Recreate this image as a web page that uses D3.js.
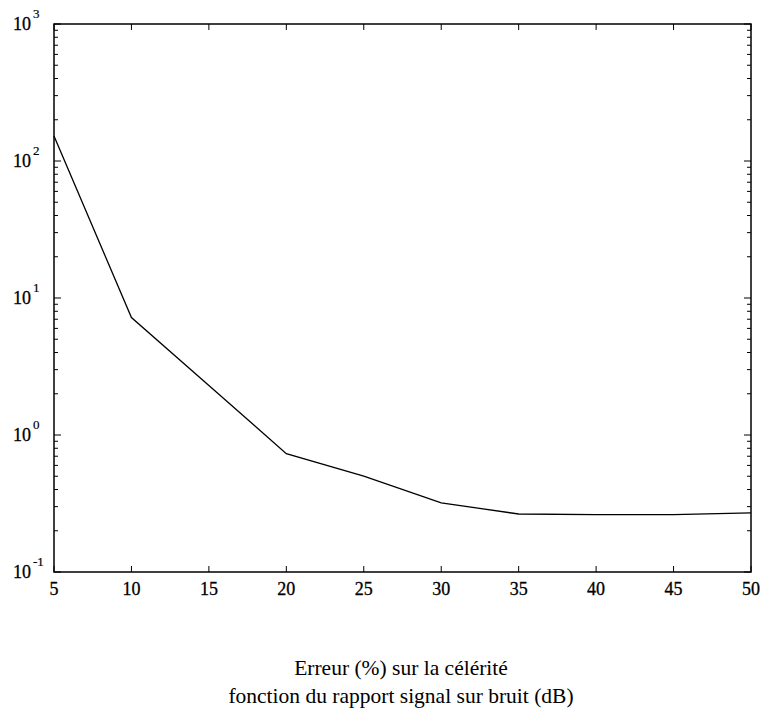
<!DOCTYPE html>
<html><head><meta charset="utf-8">
<script src="https://cdn.jsdelivr.net/npm/d3@7"></script>
<style>body{margin:0;background:#fff}svg{display:block}</style>
</head><body><svg id="c" width="763" height="718"></svg>
<script>
const snr = [5, 10, 15, 20, 25, 30, 35, 40, 45, 50];
const errPct = [152, 7.2, 2.3, 0.73, 0.5, 0.32, 0.265, 0.262, 0.262, 0.27];
const xTicks = [5, 10, 15, 20, 25, 30, 35, 40, 45, 50];
const yExps = [-1, 0, 1, 2, 3];
const caption = ["Erreur (%) sur la célérité", "fonction du rapport signal sur bruit (dB)"];

const FONT = "'Liberation Serif', 'Times New Roman', Times, 'DejaVu Serif', serif";
const svg = d3.select("#c");
const L = 54, R = 751, T = 24, B = 572;
const x = d3.scaleLinear().domain([5, 50]).range([L, R]);
const y = d3.scaleLog().domain([0.1, 1000]).range([B, T]);

const minorY = [];
for (let e = -1; e < 3; e++) for (let m = 2; m <= 9; m++) minorY.push(m * Math.pow(10, e));
const g = svg.append("g").attr("stroke", "#000").attr("stroke-width", 1);
minorY.forEach(v => {
  g.append("line").attr("x1", L).attr("x2", L + 4).attr("y1", y(v)).attr("y2", y(v));
  g.append("line").attr("x1", R).attr("x2", R - 4).attr("y1", y(v)).attr("y2", y(v));
});
yExps.forEach(e => {
  const v = Math.pow(10, e);
  g.append("line").attr("x1", L).attr("x2", L + 7).attr("y1", y(v)).attr("y2", y(v));
  g.append("line").attr("x1", R).attr("x2", R - 7).attr("y1", y(v)).attr("y2", y(v));
});
xTicks.forEach(v => {
  g.append("line").attr("x1", x(v)).attr("x2", x(v)).attr("y1", B).attr("y2", B - 6);
  g.append("line").attr("x1", x(v)).attr("x2", x(v)).attr("y1", T).attr("y2", T + 6);
});
svg.append("rect").attr("x", L).attr("y", T).attr("width", R - L).attr("height", B - T)
  .attr("fill", "none").attr("stroke", "#000").attr("stroke-width", 1.5);

svg.append("g").selectAll("text").data(xTicks).join("text")
  .style("font-family", FONT).attr("fill", "#000")
  .attr("x", d => x(d)).attr("y", B + 23).attr("text-anchor", "middle")
  .attr("font-size", 18).attr("stroke", "#000").attr("stroke-width", 0.3).text(d => d);

yExps.forEach(e => {
  svg.append("text").style("font-family", FONT).attr("x", 31).attr("y", y(Math.pow(10, e)) + 6)
    .attr("text-anchor", "end").attr("font-size", 18).attr("stroke", "#000").attr("stroke-width", 0.3).text("10");
  svg.append("text").style("font-family", FONT).attr("x", 33).attr("y", y(Math.pow(10, e)) - 6)
    .attr("font-size", 13).attr("stroke", "#000").attr("stroke-width", 0.2).text(e);
});

const line = d3.line().x((d, i) => x(snr[i])).y(d => y(d));
svg.append("path").datum(errPct).attr("d", line).attr("fill", "none")
  .attr("stroke", "#000").attr("stroke-width", 1.3);

svg.append("g").selectAll("text").data(caption).join("text")
  .style("font-family", FONT)
  .attr("x", 401).attr("y", (d, i) => 675 + i * 28).attr("text-anchor", "middle")
  .attr("font-size", 21.5).text(d => d);
</script></body></html>
